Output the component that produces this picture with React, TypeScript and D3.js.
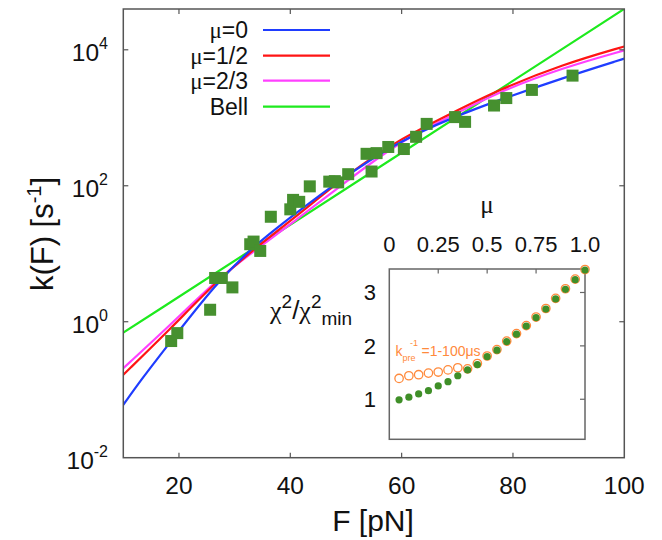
import React from "react";
import * as d3 from "d3";

// measured rupture rates (green squares)
const forceData = [
  18.6, 19.7, 25.6, 26.5, 27.7, 29.6, 32.8, 33.4, 34.6, 36.5, 40.0, 40.5, 41.6, 43.5, 47.0, 48.0,
  48.6, 50.4, 53.7, 54.6, 55.5, 57.6, 60.4, 62.6, 64.5, 69.6, 71.4, 76.6, 78.8, 83.4, 90.7,
];
const rateData = [
  0.52, 0.68, 1.5, 4.4, 4.4, 3.2, 13.8, 15.1, 11, 35, 45, 62, 58, 98, 115, 117,
  112, 148, 295, 162, 302, 372, 347, 525, 813, 1023, 871, 1514, 1950, 2570, 4170,
];

// fitted curves
const mu0F = [10, 13.6, 17.8, 26.7, 33.6, 41.1, 48.3, 59.1, 69.3, 77.1, 89.1, 100];
const mu0K = [0.06, 0.155, 0.43, 3.7, 13.5, 40, 112, 437, 1020, 1780, 3890, 7410];
const muHalfF = [10, 18.3, 26.7, 33.6, 41.1, 50.75, 59.1, 69.3, 77.1, 89.1, 100];
const muHalfK = [0.166, 0.76, 3.9, 12, 35.5, 158, 457, 1200, 2510, 6170, 11200];
const muTwoThirdsF = [10, 18.3, 26.7, 33.6, 41.1, 48.3, 59.1, 69.3, 77.1, 89.1, 100];
const muTwoThirdsK = [0.207, 0.87, 4.07, 11.2, 31.6, 89, 427, 1100, 2340, 5500, 9800];
const bellF = [10, 55, 100];
const bellK = [0.69, 166, 40000];

const legendLabels = ["0", "1/2", "2/3", "Bell"];

// inset: chi^2 / chi^2_min vs mu
const insetMu = [
  0.05, 0.1, 0.15, 0.2, 0.25, 0.3, 0.35, 0.4, 0.45, 0.5, 0.55, 0.6, 0.65, 0.7, 0.75, 0.8, 0.85,
  0.9, 0.95, 1.0,
];
const chiFilled = [
  0.99, 1.04, 1.1, 1.16, 1.25, 1.33, 1.44, 1.55, 1.65, 1.8, 1.92, 2.08, 2.22, 2.37, 2.53, 2.69,
  2.88, 3.06, 3.24, 3.42,
];
const chiOpen = [
  1.39, 1.44, 1.46, 1.49, 1.51, 1.55, 1.59, 1.57, 1.67, 1.81, 1.93, 2.09, 2.23, 2.38, 2.54, 2.7,
  2.89, 3.07, 3.25, 3.43,
];
const insetXTicks = [0, 0.25, 0.5, 0.75, 1.0];
const insetXTickLabels = ["0", "0.25", "0.5", "0.75", "1.0"];
const insetYTicks = [1, 2, 3];

const xTicks = [20, 40, 60, 80, 100];
const yTickExps = [-2, 0, 2, 4];

const FONT = "'Liberation Sans', Arial, Helvetica, sans-serif";
const SERIF = "'Liberation Serif', 'Times New Roman', serif";
const FRAME = "#555";

const App = () => {
  const W = 662;
  const H = 540;
  const plot = { left: 123.3, right: 624.3, top: 9, bottom: 457.7 };

  const x = d3.scaleLinear().domain([10, 100]).range([plot.left, plot.right]);
  const y = d3
    .scaleLog()
    .domain([1e-2, Math.pow(10, 4.6)])
    .range([plot.bottom, plot.top]);

  const line = d3
    .line<[number, number]>()
    .x((d) => x(d[0]))
    .y((d) => y(d[1]))
    .curve(d3.curveBasis);

  const series = [
    { f: mu0F, k: mu0K, color: "#1f3dff" },
    { f: muHalfF, k: muHalfK, color: "#ff1414" },
    { f: muTwoThirdsF, k: muTwoThirdsK, color: "#ff40ff" },
    { f: bellF, k: bellK, color: "#1eea1e" },
  ];

  // inset scales
  const ix = d3.scaleLinear().domain([0, 1]).range([389.3, 585]);
  const iy = d3.scaleLinear().domain([0.25, 3.44]).range([439.3, 269]);

  const sq = 12;
  const legendY = [30, 55.7, 80.7, 106.7];

  return (
    <svg
      width={W}
      height={H}
      style={{ position: "absolute", left: 0, top: 0, background: "#fff" }}
      fontFamily={FONT}
    >
      <defs>
        <clipPath id="plotClip">
          <rect x={plot.left} y={plot.top} width={plot.right - plot.left} height={plot.bottom - plot.top} />
        </clipPath>
      </defs>
      <rect width={W} height={H} fill="#fff" />

      {/* curves */}
      <g clipPath="url(#plotClip)">
        {series
          .slice()
          .reverse()
          .map((s, i) => (
            <path
              key={i}
              d={line(s.f.map((f, j) => [f, s.k[j]] as [number, number])) || ""}
              fill="none"
              stroke={s.color}
              strokeWidth={2.2}
            />
          ))}
      </g>

      {/* data squares */}
      {forceData.map((f, i) => (
        <rect
          key={i}
          x={x(f) - sq / 2}
          y={y(rateData[i]) - sq / 2}
          width={sq}
          height={sq}
          fill="#46902f"
        />
      ))}

      {/* legend */}
      {legendLabels.map((lab, i) => (
        <g key={lab}>
          <text x={248} y={legendY[i] + 8} fontSize={23} textAnchor="end" fill="#111">
            {lab === "Bell" ? (
              "Bell"
            ) : (
              <>
                <tspan fontFamily={SERIF}>μ</tspan>
                {"=" + lab}
              </>
            )}
          </text>
          <line x1={263} x2={330} y1={legendY[i]} y2={legendY[i]} stroke={series[i].color} strokeWidth={2.2} />
        </g>
      ))}

      {/* main frame */}
      <rect
        x={plot.left}
        y={plot.top}
        width={plot.right - plot.left}
        height={plot.bottom - plot.top}
        fill="none"
        stroke={FRAME}
        strokeWidth={1.5}
      />
      {xTicks.slice(0, -1).map((t) => (
        <g key={t}>
          <line x1={x(t)} x2={x(t)} y1={plot.bottom} y2={plot.bottom - 5} stroke={FRAME} strokeWidth={1.2} />
          <line x1={x(t)} x2={x(t)} y1={plot.top} y2={plot.top + 5} stroke={FRAME} strokeWidth={1.2} />
        </g>
      ))}
      {xTicks.map((t) => (
        <text key={t} x={x(t)} y={493.5} fontSize={24.5} textAnchor="middle" fill="#111">
          {t}
        </text>
      ))}
      {yTickExps.map((e) => {
        const yy = y(Math.pow(10, e));
        return (
          <g key={e}>
            {e > -2 && (
              <>
                <line x1={plot.left} x2={plot.left + 5} y1={yy} y2={yy} stroke={FRAME} strokeWidth={1.2} />
                <line x1={plot.right} x2={plot.right - 5} y1={yy} y2={yy} stroke={FRAME} strokeWidth={1.2} />
              </>
            )}
            <text x={108} y={yy + 11.5} fontSize={24.5} textAnchor="end" fill="#111">
              10
              <tspan dy={-12} fontSize={16}>
                {e}
              </tspan>
            </text>
          </g>
        );
      })}

      {/* axis titles */}
      <text x={373} y={531} fontSize={30} textAnchor="middle" fill="#111">
        F [pN]
      </text>
      <text transform="translate(53,234) rotate(-90)" fontSize={31} textAnchor="middle" fill="#111">
        k(F) [s
        <tspan dy={-12} fontSize={20}>
          -1
        </tspan>
        <tspan dy={12}>]</tspan>
      </text>

      {/* inset */}
      <rect x={389.3} y={269} width={585 - 389.3} height={439.3 - 269} fill="#fff" stroke="#666" strokeWidth={1.5} />
      {insetXTicks.slice(1, -1).map((t) => (
        <line key={t} x1={ix(t)} x2={ix(t)} y1={269} y2={273.5} stroke="#666" strokeWidth={1.2} />
      ))}
      {insetYTicks.map((t) => (
        <line key={t} x1={585} x2={580} y1={iy(t)} y2={iy(t)} stroke="#666" strokeWidth={1.2} />
      ))}
      {insetXTicks.map((t, i) => (
        <text key={t} x={ix(t)} y={251.5} fontSize={22} textAnchor="middle" fill="#111">
          {insetXTickLabels[i]}
        </text>
      ))}
      {insetYTicks.map((t) => (
        <text key={t} x={376} y={iy(t) + 8} fontSize={22} textAnchor="end" fill="#111">
          {t}
        </text>
      ))}
      <text x={487} y={213} fontSize={25} textAnchor="middle" fill="#111" fontFamily={SERIF}>
        μ
      </text>
      <text x={270} y={319} fontSize={26} fill="#111">
        <tspan fontFamily={SERIF}>χ</tspan>
        <tspan dy={-11} fontSize={19}>2</tspan>
        <tspan dy={11}>/</tspan>
        <tspan fontFamily={SERIF}>χ</tspan>
        <tspan dy={-11} fontSize={19}>2</tspan>
        <tspan dy={17} fontSize={19}>min</tspan>
      </text>

      {chiOpen.map((v, i) => (
        <circle key={"o" + i} cx={ix(insetMu[i])} cy={iy(v)} r={4.2} fill="none" stroke="#ff8a3c" strokeWidth={1.3} />
      ))}
      {chiFilled.map((v, i) => (
        <circle key={"f" + i} cx={ix(insetMu[i])} cy={iy(v)} r={3.6} fill="#3f8f28" />
      ))}

      <text x={395.5} y={356} fontSize={14} fill="#ff8a3c">
        k
        <tspan dy={5} fontSize={9}>pre</tspan>
        <tspan x={410} dy={-15} fontSize={9}>-1</tspan>
        <tspan x={421.5} dy={10}>=1-100μs</tspan>
      </text>
    </svg>
  );
};

export default App;
